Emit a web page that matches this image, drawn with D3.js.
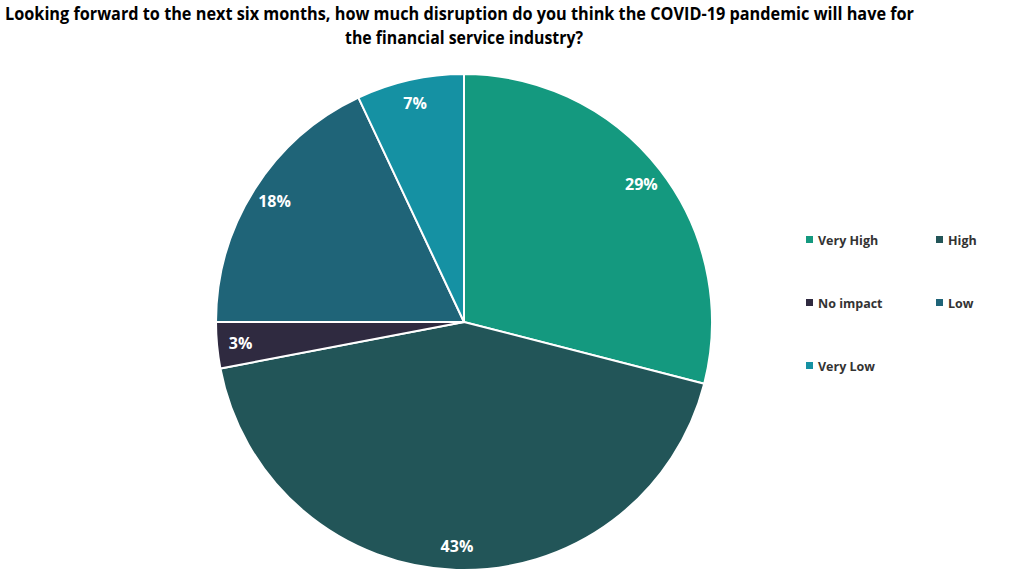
<!DOCTYPE html>
<html><head><meta charset="utf-8">
<script src="https://cdn.jsdelivr.net/npm/d3@7"></script>
<style>body{margin:0;background:#fff}svg{display:block}</style>
</head><body>
<svg id="c" width="1024" height="576"></svg>
<script>
const categories = ["Very High","High","No impact","Low","Very Low"];
const values = [29,43,3,18,7];
const colors = ["#14997F","#225558","#2F2A40","#1F6478","#1591A3"];
const titleLines = ["Looking forward to the next six months, how much disruption do you think the COVID-19 pandemic will have for","the financial service industry?"];

const svg = d3.select("#c");
const font = "Open Sans, Lato, sans-serif";
// title
const tl = [{x:5,w:909,y:20},{x:345,w:238,y:44}];
titleLines.forEach((t,i)=>{
  svg.append("text").attr("x",tl[i].x).attr("y",tl[i].y)
    .attr("textLength",tl[i].w).attr("lengthAdjust","spacingAndGlyphs")
    .attr("font-family",font).attr("font-weight","bold").attr("font-size",17)
    .attr("fill","#000").text(t);
});
const cx=464, cy=322, R=248;
const pie = d3.pie().sort(null).value(d=>d)(values);
const arc = d3.arc().innerRadius(0).outerRadius(R);
const labelArc = d3.arc().innerRadius(R*0.905).outerRadius(R*0.905);
const g = svg.append("g").attr("transform",`translate(${cx},${cy})`);
g.selectAll("path").data(pie).join("path").attr("d",arc)
  .attr("fill",(d,i)=>colors[i]).attr("stroke","#fff").attr("stroke-width",2);
g.selectAll("text").data(pie).join("text")
  .attr("transform",d=>`translate(${labelArc.centroid(d)})`)
  .attr("text-anchor","middle").attr("dy","0.35em")
  .attr("font-family",font).attr("font-weight","bold").attr("font-size",16)
  .attr("fill","#fff").text(d=>d.data+"%");
// legend
const lx=[806,936], ly=[240,303,366];
categories.forEach((c,i)=>{
  const x=lx[i%2], y=ly[Math.floor(i/2)];
  svg.append("rect").attr("x",x).attr("y",y-4).attr("width",7).attr("height",7).attr("fill",colors[i]);
  svg.append("text").attr("x",x+12).attr("y",y+4.5).attr("font-family",font)
    .attr("font-weight","bold").attr("font-size",12.5).attr("fill","#333").text(c);
});
</script>
</body></html>
